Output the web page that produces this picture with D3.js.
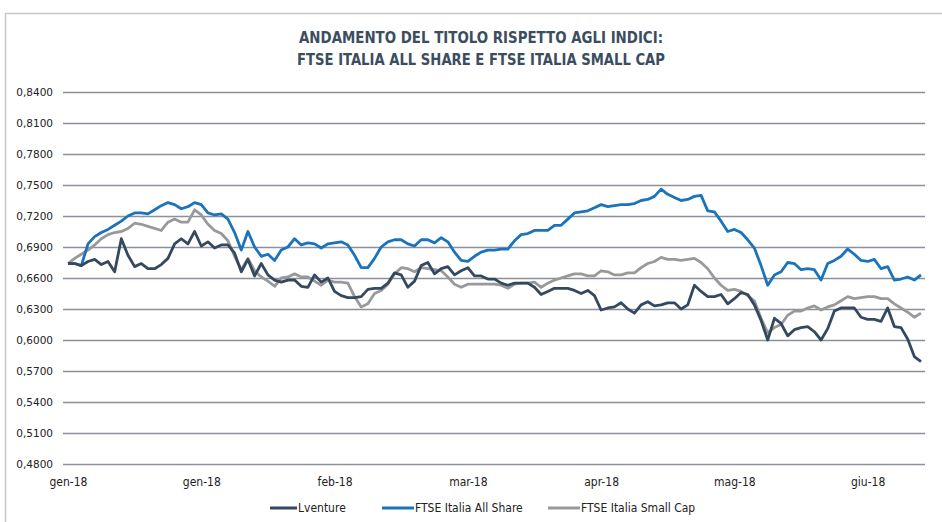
<!DOCTYPE html>
<html>
<head>
<meta charset="utf-8">
<script src="https://cdn.jsdelivr.net/npm/d3@7"></script>
<style>
  html, body { margin: 0; padding: 0; background: #fff; }
  svg { display: block; }
</style>
</head>
<body>
<svg id="chart" width="942" height="522"></svg>
<script>
// values (one per trading day)
const lventure = [
  0.674, 0.674, 0.672, 0.676, 0.678, 0.673, 0.676, 0.666, 0.698, 0.682,
  0.671, 0.674, 0.669, 0.669, 0.673, 0.679, 0.693, 0.698, 0.693, 0.705,
  0.691, 0.695, 0.689, 0.692, 0.692, 0.684, 0.666, 0.678, 0.662, 0.674,
  0.663, 0.658, 0.656, 0.658, 0.658, 0.652, 0.651, 0.663, 0.656, 0.660,
  0.647, 0.643, 0.641, 0.641, 0.642, 0.649, 0.650, 0.650, 0.655, 0.665,
  0.663, 0.651, 0.657, 0.672, 0.675, 0.664, 0.669, 0.671, 0.663, 0.667,
  0.670, 0.662, 0.662, 0.659, 0.659, 0.655, 0.653, 0.655, 0.655, 0.655,
  0.651, 0.644, 0.647, 0.650, 0.650, 0.650, 0.648, 0.645, 0.648, 0.643,
  0.629, 0.631, 0.632, 0.636, 0.630, 0.626, 0.634, 0.637, 0.633, 0.634,
  0.636, 0.636, 0.630, 0.634, 0.653, 0.647, 0.642, 0.642, 0.644, 0.635,
  0.640, 0.646, 0.644, 0.634, 0.619, 0.600, 0.621, 0.616, 0.604, 0.610,
  0.612, 0.613, 0.608, 0.600, 0.611, 0.628, 0.631, 0.631, 0.631, 0.622,
  0.620, 0.620, 0.618, 0.631, 0.613, 0.612, 0.601, 0.584, 0.579
];

const allShare = [
  0.674, 0.674, 0.672, 0.693, 0.700, 0.704, 0.707, 0.711, 0.715, 0.720,
  0.723, 0.723, 0.722, 0.726, 0.730, 0.733, 0.731, 0.727, 0.729, 0.733,
  0.731, 0.723, 0.721, 0.722, 0.717, 0.704, 0.687, 0.705, 0.690, 0.681,
  0.683, 0.677, 0.687, 0.690, 0.698, 0.692, 0.694, 0.693, 0.689, 0.693,
  0.694, 0.695, 0.692, 0.682, 0.670, 0.670, 0.679, 0.690, 0.695, 0.697,
  0.697, 0.693, 0.691, 0.697, 0.697, 0.694, 0.699, 0.695, 0.685, 0.677,
  0.676, 0.681, 0.685, 0.687, 0.687, 0.688, 0.688, 0.696, 0.702, 0.703,
  0.706, 0.706, 0.706, 0.711, 0.711, 0.717, 0.723, 0.724, 0.725, 0.728,
  0.731, 0.729, 0.730, 0.731, 0.731, 0.732, 0.735, 0.736, 0.739, 0.746,
  0.741, 0.738, 0.735, 0.736, 0.739, 0.740, 0.725, 0.724, 0.715, 0.705,
  0.707, 0.704, 0.697, 0.689, 0.672, 0.653, 0.663, 0.666, 0.675, 0.674,
  0.668, 0.669, 0.668, 0.658, 0.674, 0.677, 0.681, 0.688, 0.683, 0.677,
  0.676, 0.678, 0.669, 0.671, 0.658, 0.659, 0.661, 0.658, 0.663
];

const smallCap = [
  0.674, 0.679, 0.683, 0.687, 0.692, 0.698, 0.702, 0.704, 0.705, 0.708,
  0.713, 0.712, 0.710, 0.708, 0.706, 0.714, 0.717, 0.714, 0.714, 0.726,
  0.721, 0.712, 0.706, 0.703, 0.696, 0.681, 0.668, 0.679, 0.667, 0.661,
  0.657, 0.652, 0.660, 0.661, 0.664, 0.661, 0.661, 0.657, 0.653, 0.658,
  0.656, 0.656, 0.655, 0.642, 0.632, 0.635, 0.645, 0.648, 0.654, 0.664,
  0.670, 0.669, 0.666, 0.670, 0.669, 0.668, 0.667, 0.661, 0.654, 0.651,
  0.654, 0.654, 0.654, 0.654, 0.654, 0.653, 0.650, 0.654, 0.655, 0.655,
  0.656, 0.651, 0.655, 0.658, 0.660, 0.662, 0.664, 0.664, 0.662, 0.662,
  0.667, 0.666, 0.663, 0.663, 0.665, 0.665, 0.670, 0.674, 0.676, 0.680,
  0.678, 0.678, 0.677, 0.678, 0.679, 0.675, 0.669, 0.660, 0.653, 0.648,
  0.649, 0.647, 0.643, 0.638, 0.621, 0.607, 0.612, 0.615, 0.624, 0.628,
  0.628, 0.631, 0.633, 0.629, 0.632, 0.634, 0.638, 0.642, 0.640, 0.641,
  0.642, 0.642, 0.640, 0.640, 0.635, 0.631, 0.627, 0.622, 0.626
];

const monthLabels = ['gen-18', 'gen-18', 'feb-18', 'mar-18', 'apr-18', 'mag-18', 'giu-18'];
const yTicks = [0.48, 0.51, 0.54, 0.57, 0.60, 0.63, 0.66, 0.69, 0.72, 0.75, 0.78, 0.81, 0.84];
const seriesNames = ['Lventure', 'FTSE Italia All Share', 'FTSE Italia Small Cap'];
const seriesColors = ['#34495f', '#1a73bb', '#999999'];

const titleLines = [
  'ANDAMENTO DEL TITOLO RISPETTO AGLI INDICI:',
  'FTSE ITALIA ALL SHARE E FTSE ITALIA SMALL CAP'
];
const titleWidths = [364, 368];

const svg = d3.select('#chart');
const narrow = '"Liberation Sans Narrow", "DejaVu Sans Condensed", "Roboto Condensed", sans-serif';

// frame
svg.append('rect')
  .attr('x', 5.5)
  .attr('y', 13.5)
  .attr('width', 945)
  .attr('height', 520)
  .attr('fill', 'none')
  .attr('stroke', '#c8c8c8')
  .attr('stroke-width', 1.5);

// title (condensed face in the original, squeezed to its width)
svg.append('g').selectAll('text')
  .data(titleLines)
  .join('text')
  .attr('x', 481)
  .attr('y', (d, i) => 43 + i * 22)
  .attr('text-anchor', 'middle')
  .attr('font-family', narrow)
  .attr('font-weight', 'bold')
  .attr('font-size', 16.5)
  .attr('textLength', (d, i) => titleWidths[i])
  .attr('lengthAdjust', 'spacingAndGlyphs')
  .attr('fill', '#3c4d60')
  .text(d => d);

const n = lventure.length;
const left = 63, right = 925;

const x = d3.scaleLinear().domain([0, n - 1]).range([68, 921]);
const y = d3.scaleLinear().domain([0.48, 0.84]).range([464, 92]);

const fmt = v => d3.format('.4f')(v).replace('.', ',');

// y axis + grid
const yAxis = svg.append('g')
  .attr('transform', `translate(${left},0)`)
  .call(d3.axisLeft(y)
    .tickValues(yTicks)
    .tickFormat(fmt)
    .tickSizeInner(-(right - left))
    .tickSizeOuter(0)
    .tickPadding(10));
yAxis.select('.domain').remove();
yAxis.selectAll('line')
  .attr('stroke', '#8c909b')
  .attr('stroke-width', 1.5);
yAxis.selectAll('text')
  .attr('font-family', '"DejaVu Sans", sans-serif')
  .attr('font-size', 10.5)
  .attr('fill', '#222');

// x axis labels
const tickIdx = monthLabels.map((d, i) => i * 20);
const xAxis = svg.append('g')
  .attr('transform', `translate(0,${y(0.48)})`)
  .call(d3.axisBottom(x)
    .tickValues(tickIdx)
    .tickFormat((d, i) => monthLabels[i])
    .tickSize(0)
    .tickPadding(13));
xAxis.select('.domain').remove();
xAxis.selectAll('text')
  .attr('font-family', narrow)
  .attr('font-size', 12)
  .attr('fill', '#222');

// lines
const line = d3.line()
  .x((d, i) => x(i))
  .y(d => y(d));

const allSeries = [lventure, allShare, smallCap];
// draw grey first, then blue, dark on top
[2, 1, 0].forEach(k => {
  svg.append('path')
    .datum(allSeries[k])
    .attr('d', line)
    .attr('fill', 'none')
    .attr('stroke', seriesColors[k])
    .attr('stroke-width', 2.8)
    .attr('stroke-linejoin', 'round');
});

// legend
const legendX = [270, 382, 548];
const legend = svg.append('g').attr('transform', 'translate(0,508)');
seriesNames.forEach((name, i) => {
  const g = legend.append('g').attr('transform', `translate(${legendX[i]},0)`);
  g.append('line')
    .attr('x1', 0)
    .attr('x2', i === 0 ? 27 : 32)
    .attr('y1', 0)
    .attr('y2', 0)
    .attr('stroke', seriesColors[i])
    .attr('stroke-width', 3);
  g.append('text')
    .attr('x', i === 0 ? 28 : 33)
    .attr('y', 0)
    .attr('dy', '0.35em')
    .attr('font-family', narrow)
    .attr('font-size', 12)
    .attr('fill', '#222')
    .text(name);
});
</script>
</body>
</html>
